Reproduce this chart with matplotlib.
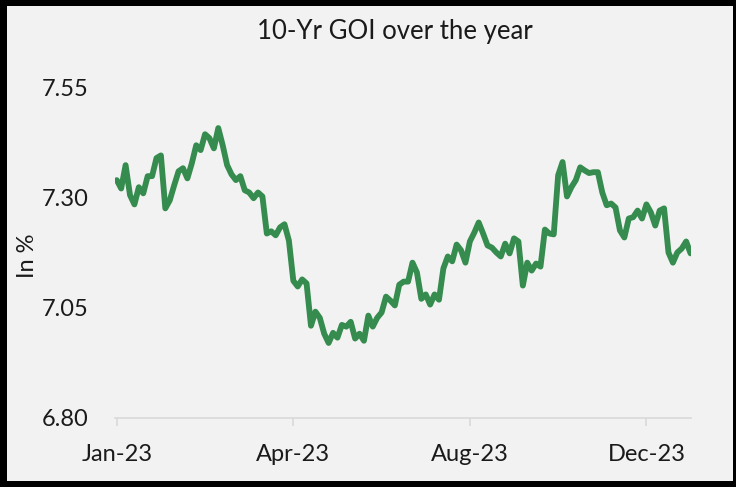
import matplotlib
matplotlib.use("Agg")
import matplotlib.pyplot as plt
from matplotlib.patches import Rectangle

# 10-year GOI yield (trading-day order)
yields = [
    7.339, 7.320, 7.373, 7.305, 7.284, 7.323, 7.309, 7.348, 7.348, 7.389,
    7.395, 7.275, 7.293, 7.327, 7.359, 7.366, 7.343, 7.377, 7.418, 7.407,
    7.443, 7.434, 7.411, 7.457, 7.418, 7.373, 7.352, 7.339, 7.348, 7.316,
    7.311, 7.298, 7.311, 7.302, 7.218, 7.223, 7.214, 7.232, 7.239, 7.202,
    7.111, 7.098, 7.114, 7.105, 7.009, 7.041, 7.027, 6.991, 6.970, 6.993,
    6.982, 7.011, 7.007, 7.018, 6.980, 6.991, 6.975, 7.032, 7.007, 7.027,
    7.039, 7.075, 7.066, 7.055, 7.102, 7.109, 7.109, 7.152, 7.130, 7.070,
    7.080, 7.057, 7.080, 7.068, 7.139, 7.166, 7.155, 7.193, 7.180, 7.152,
    7.200, 7.220, 7.243, 7.218, 7.191, 7.186, 7.175, 7.166, 7.195, 7.173,
    7.207, 7.200, 7.100, 7.152, 7.134, 7.150, 7.143, 7.227, 7.218, 7.216,
    7.350, 7.380, 7.302, 7.323, 7.339, 7.368, 7.361, 7.355, 7.357, 7.357,
    7.311, 7.282, 7.286, 7.277, 7.225, 7.209, 7.252, 7.255, 7.270, 7.252,
    7.284, 7.266, 7.236, 7.270, 7.275, 7.175, 7.152, 7.175, 7.184, 7.200,
    7.173,
]
x_labels = ["Jan-23", "Apr-23", "Aug-23", "Dec-23"]
y_ticks = [6.80, 7.05, 7.30, 7.55]

plt.rcParams['font.family'] = ['Lato', 'DejaVu Sans']
bg = '#f2f2f2'
text_c = '#1a1a1a'

fig = plt.figure(figsize=(7.36, 4.87), dpi=100, facecolor=bg)
ax = fig.add_axes([115 / 736, 69 / 487, 576 / 736, 331 / 487])
ax.set_facecolor(bg)

ax.plot(range(len(yields)), yields, color='#358c4e', lw=4.2,
        solid_joinstyle='round', solid_capstyle='round')

ax.set_xlim(-0.4, 130.1)
ax.set_ylim(6.80, 7.55)
ax.set_yticks(y_ticks)
ax.set_yticklabels([f"{v:.2f}" for v in y_ticks])
ax.set_xticks(range(0, len(yields), 40))
ax.set_xticklabels(x_labels)

for s in ['top', 'right', 'left']:
    ax.spines[s].set_visible(False)
ax.spines['bottom'].set_color('#d9d9d9')
ax.spines['bottom'].set_linewidth(1.2)
ax.tick_params(axis='x', colors='#d9d9d9', length=6, width=1.2, pad=13,
               labelcolor=text_c, labelsize=17)
ax.tick_params(axis='y', length=0, pad=19, labelcolor=text_c, labelsize=17)

ax.set_ylabel("In %", fontsize=17, color=text_c)
ax.yaxis.set_label_coords(-0.133, 0.49)

fig.text(0.537, 1 - 32 / 487, "10-Yr GOI over the year", ha='center',
         va='center', fontsize=18.5, color=text_c)

# black frame around the picture
for rect in [(0, 0, 7 / 736, 1), (0, 1 - 6 / 487, 1, 6 / 487),
             (0, 0, 1, 6 / 487), (1 - 3 / 736, 0, 3 / 736, 1)]:
    fig.add_artist(Rectangle(rect[:2], rect[2], rect[3],
                             transform=fig.transFigure, color='black', lw=0))

fig.savefig("out.png", dpi=100, facecolor=bg)
